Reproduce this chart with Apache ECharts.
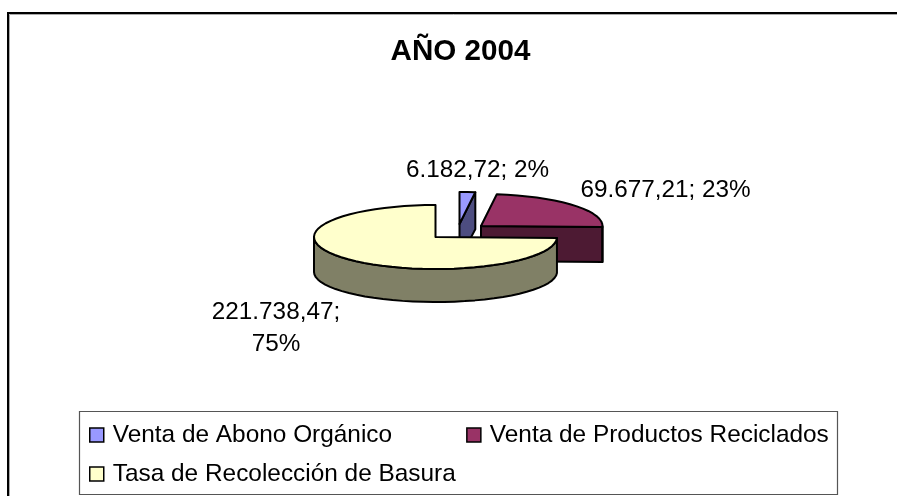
<!DOCTYPE html>
<html>
<head>
<meta charset="utf-8">
<style>
  html, body { margin: 0; padding: 0; background: #fff; }
  #main { width: 897px; height: 496px; }
</style>
<script src="https://cdn.jsdelivr.net/npm/echarts@6/dist/echarts.min.js"></script>
</head>
<body>
<div id="main"></div>
<script>
const categories = ['Venta de Abono Orgánico', 'Venta de Productos Reciclados', 'Tasa de Recolección de Basura'];
const values = [6182.72, 69677.21, 221738.47];
const valueLabels = ['6.182,72; 2%', '69.677,21; 23%', '221.738,47;\n75%'];
const topColors = ['#9999ff', '#993366', '#ffffcc'];
const sideColors = ['#4d4d80', '#4d1a33', '#808066'];

// fake 3d pie: ellipse for the top, walls pushed down by depth
const FONT = '"Liberation Sans", Arial, sans-serif';
const pie = { cx: 435.5, cy: 237, rx: 121.5, ry: 32, bottomRy: 30, depth: 35 };
const explode = [[24, -13], [45.5, -11], [0, 0]];
const labelPos = [[477.5, 170], [665.5, 190], [276, 328]];

const total = values.reduce((a, b) => a + b, 0);

function rim(i, deg, lower) {
  const a = deg * Math.PI / 180;
  const ry = lower ? pie.bottomRy : pie.ry;
  return [
    pie.cx + explode[i][0] + pie.rx * Math.sin(a),
    pie.cy + explode[i][1] - ry * Math.cos(a) + (lower ? pie.depth : 0)
  ];
}

function arc(i, from, to, lower) {
  const pts = [];
  const n = Math.max(1, Math.ceil(Math.abs(to - from) / 5));
  for (let k = 0; k <= n; k++) pts.push(rim(i, from + (to - from) * k / n, lower));
  return pts;
}

function face(points, fill, z2) {
  return {
    type: 'polygon',
    z2: z2,
    shape: { points: points },
    style: { fill: fill, stroke: '#000', lineWidth: 2, lineJoin: 'round' }
  };
}

function renderSlice(i) {
  return function (params, api) {
    const before = values.slice(0, i).reduce((a, b) => a + b, 0);
    const start = before / total * 360;
    const end = start + api.value(0) / total * 360;
    const apex = [pie.cx + explode[i][0], pie.cy + explode[i][1]];
    const apexLow = [apex[0], apex[1] + pie.depth];
    const children = [];

    // cut face on the clockwise side, only seen on the right half
    if (end < 180) {
      children.push(face([apex, rim(i, end), rim(i, end, true), apexLow], sideColors[i], 1));
    }
    // outer wall on the front half
    const wallFrom = Math.max(start, 90);
    const wallTo = Math.min(end, 270);
    if (wallTo > wallFrom) {
      children.push(face(
        arc(i, wallFrom, wallTo).concat(arc(i, wallTo, wallFrom, true)),
        sideColors[i], 2
      ));
    }
    children.push(face([apex].concat(arc(i, start, end)), topColors[i], 3));
    children.push({
      type: 'text',
      z2: 4,
      style: {
        x: labelPos[i][0],
        y: labelPos[i][1],
        text: valueLabels[i],
        font: '24.3px ' + FONT,
        lineHeight: 32,
        fill: '#000',
        align: 'center',
        verticalAlign: 'middle'
      }
    });
    return { type: 'group', children: children };
  };
}

const legendBase = {
  orient: 'horizontal',
  left: 84,
  itemWidth: 14,
  itemHeight: 14,
  itemGap: 74,
  icon: 'rect',
  selectedMode: false,
  itemStyle: { borderColor: '#000', borderWidth: 1.5 },
  textStyle: { fontFamily: FONT, fontSize: 24.4, color: '#000', padding: [0, 0, 0, 4] }
};

const chart = echarts.init(document.getElementById('main'), null, { renderer: 'canvas' });
chart.setOption({
  animation: false,
  backgroundColor: '#fff',
  title: {
    text: 'AÑO 2004',
    left: 455.5,
    top: 32,
    textAlign: 'center',
    textStyle: { fontFamily: FONT, fontSize: 29.6, fontWeight: 'bold', color: '#000' }
  },
  legend: [
    Object.assign({}, legendBase, { top: 418, data: categories.slice(0, 2) }),
    Object.assign({}, legendBase, { top: 457, data: categories.slice(2) })
  ],
  graphic: [
    {
      type: 'polyline',
      shape: { points: [[9.5, 496], [9.5, 14.5], [897, 14.5]] },
      style: { fill: null, stroke: '#aaa', lineWidth: 1 }
    },
    {
      type: 'polyline',
      shape: { points: [[8, 496], [8, 13], [897, 13]] },
      style: { fill: null, stroke: '#000', lineWidth: 2 }
    },
    {
      type: 'rect',
      shape: { x: 79.5, y: 411.5, width: 758, height: 83 },
      style: { fill: null, stroke: '#555', lineWidth: 1.2 }
    }
  ],
  series: categories.map((name, i) => ({
    type: 'custom',
    name: name,
    coordinateSystem: 'none',
    itemStyle: { color: topColors[i] },
    data: [[values[i]]],
    renderItem: renderSlice(i)
  }))
});
</script>
</body>
</html>
